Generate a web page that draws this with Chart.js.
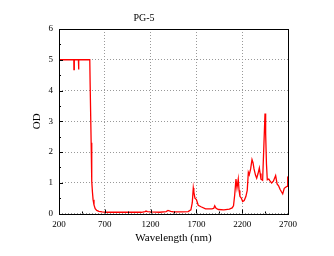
<!DOCTYPE html>
<html>
<head>
<meta charset="utf-8">
<script src="https://cdn.jsdelivr.net/npm/chart.js@4/dist/chart.umd.min.js"></script>
<style>
  html, body { margin: 0; padding: 0; background: #fff; }
  #box { width: 334px; height: 256px; }
</style>
</head>
<body>
<div id="box"><canvas id="od-chart" width="334" height="256"></canvas></div>
<script>
// spectrum
const wavelengths = [200, 362, 363, 366, 367, 412, 413, 416, 417, 536, 538, 540, 548, 551, 555, 560, 565, 572, 582, 595, 612, 635, 670, 720, 900, 1100, 1140, 1150, 1165, 1200, 1300, 1370, 1390, 1420, 1450, 1550, 1610, 1640, 1655, 1666, 1672, 1684, 1700, 1720, 1750, 1800, 1870, 1890, 1900, 1915, 1940, 2000, 2060, 2090, 2105, 2118, 2132, 2143, 2157, 2166, 2175, 2190, 2205, 2222, 2240, 2255, 2267, 2277, 2292, 2307, 2318, 2329, 2345, 2358, 2373, 2387, 2396, 2405, 2423, 2434, 2449, 2456, 2465, 2474, 2490, 2505, 2521, 2540, 2565, 2581, 2597, 2613, 2630, 2642, 2659, 2678, 2690, 2697, 2700];
const od = [5, 5, 4.68, 4.68, 5, 5, 4.68, 4.68, 5, 5, 5, 4.2, 4.2, 2.3, 1.6, 1.05, 0.7, 0.45, 0.28, 0.16, 0.1, 0.07, 0.05, 0.04, 0.04, 0.04, 0.06, 0.08, 0.06, 0.05, 0.04, 0.06, 0.1, 0.07, 0.05, 0.05, 0.06, 0.12, 0.35, 0.83, 0.7, 0.5, 0.45, 0.27, 0.22, 0.15, 0.15, 0.17, 0.25, 0.17, 0.13, 0.12, 0.14, 0.18, 0.25, 0.6, 1.12, 0.83, 1.12, 0.75, 0.56, 0.5, 0.39, 0.42, 0.55, 0.75, 1.34, 1.26, 1.45, 1.75, 1.65, 1.45, 1.25, 1.15, 1.3, 1.48, 1.3, 1.12, 1.08, 1.99, 3.25, 2.6, 1.6, 1.1, 1.12, 1.05, 0.99, 1.05, 1.23, 0.96, 0.9, 0.79, 0.7, 0.64, 0.82, 0.86, 0.88, 1.19, 1.2];
const xTicks = [200, 700, 1200, 1700, 2200, 2700];
const yTicks = [0, 1, 2, 3, 4, 5, 6];

const serif = 'Liberation Serif, Times New Roman, serif';

// frame plus inward ticks (major and minor) like the Origin plot
const framePlugin = {
    id: 'frame',
    afterDraw(chart) {
        const c = chart.ctx;
        const a = chart.chartArea;
        const xs = chart.scales.x;
        const ys = chart.scales.y;
        c.save();
        c.strokeStyle = '#000';
        c.lineWidth = 1;
        c.strokeRect(Math.round(a.left) + 0.5, Math.round(a.top) + 0.5, Math.round(a.right - a.left), Math.round(a.bottom - a.top));
        c.beginPath();
        for (let v = 200; v <= 2700; v += 250) {
            const px = Math.round(xs.getPixelForValue(v)) + 0.5;
            const len = (v - 200) % 500 === 0 ? 4 : 2;
            c.moveTo(px, a.bottom);
            c.lineTo(px, a.bottom - len);
        }
        for (let v = 0; v <= 6; v += 0.5) {
            const py = Math.round(ys.getPixelForValue(v)) + 0.5;
            const len = v % 1 === 0 ? 4 : 2;
            c.moveTo(a.left, py);
            c.lineTo(a.left + len, py);
        }
        c.stroke();
        c.restore();
    }
};

new Chart(document.getElementById('od-chart').getContext('2d'), {
    type: 'line',
    data: {
        datasets: [{
            data: wavelengths.map((w, i) => ({ x: w, y: od[i] })),
            borderColor: '#ff0000',
            borderWidth: 1.3,
            pointRadius: 0,
            tension: 0,
            fill: false
        }]
    },
    options: {
        responsive: false,
        animation: false,
        layout: { padding: { left: 0, right: 46, top: 0, bottom: 0 } },
        plugins: {
            legend: { display: false },
            tooltip: { enabled: false },
            title: {
                display: true,
                text: 'PG-5',
                color: '#000',
                font: { family: serif, size: 10, weight: 'normal' },
                padding: { top: 12, bottom: 5 }
            }
        },
        scales: {
            x: {
                type: 'linear',
                min: 200,
                max: 2700,
                afterBuildTicks: s => { s.ticks = xTicks.map(v => ({ value: v })); },
                afterFit: s => { s.height = 42.5; },
                ticks: {
                    color: '#000', padding: 6, maxRotation: 0,
                    font: { family: serif, size: 9 },
                    callback: v => String(v)
                },
                grid: { color: '#999', drawTicks: false, lineWidth: 1 },
                border: { display: false, dash: [1, 2] },
                title: {
                    display: true,
                    text: 'Wavelength (nm)',
                    color: '#000',
                    font: { family: serif, size: 11 },
                    padding: { top: 0, bottom: 11.5 }
                }
            },
            y: {
                min: 0,
                max: 6,
                afterBuildTicks: s => { s.ticks = yTicks.map(v => ({ value: v })); },
                afterFit: s => { s.width = 59; },
                ticks: {
                    color: '#000', padding: 6,
                    font: { family: serif, size: 9 },
                    callback: v => String(v)
                },
                grid: { color: '#999', drawTicks: false, lineWidth: 1 },
                border: { display: false, dash: [1, 2] },
                title: {
                    display: true,
                    text: 'OD',
                    color: '#000',
                    font: { family: serif, size: 11 },
                    padding: { top: 30.5, bottom: 0 }
                }
            }
        }
    },
    plugins: [framePlugin]
});
</script>
</body>
</html>
